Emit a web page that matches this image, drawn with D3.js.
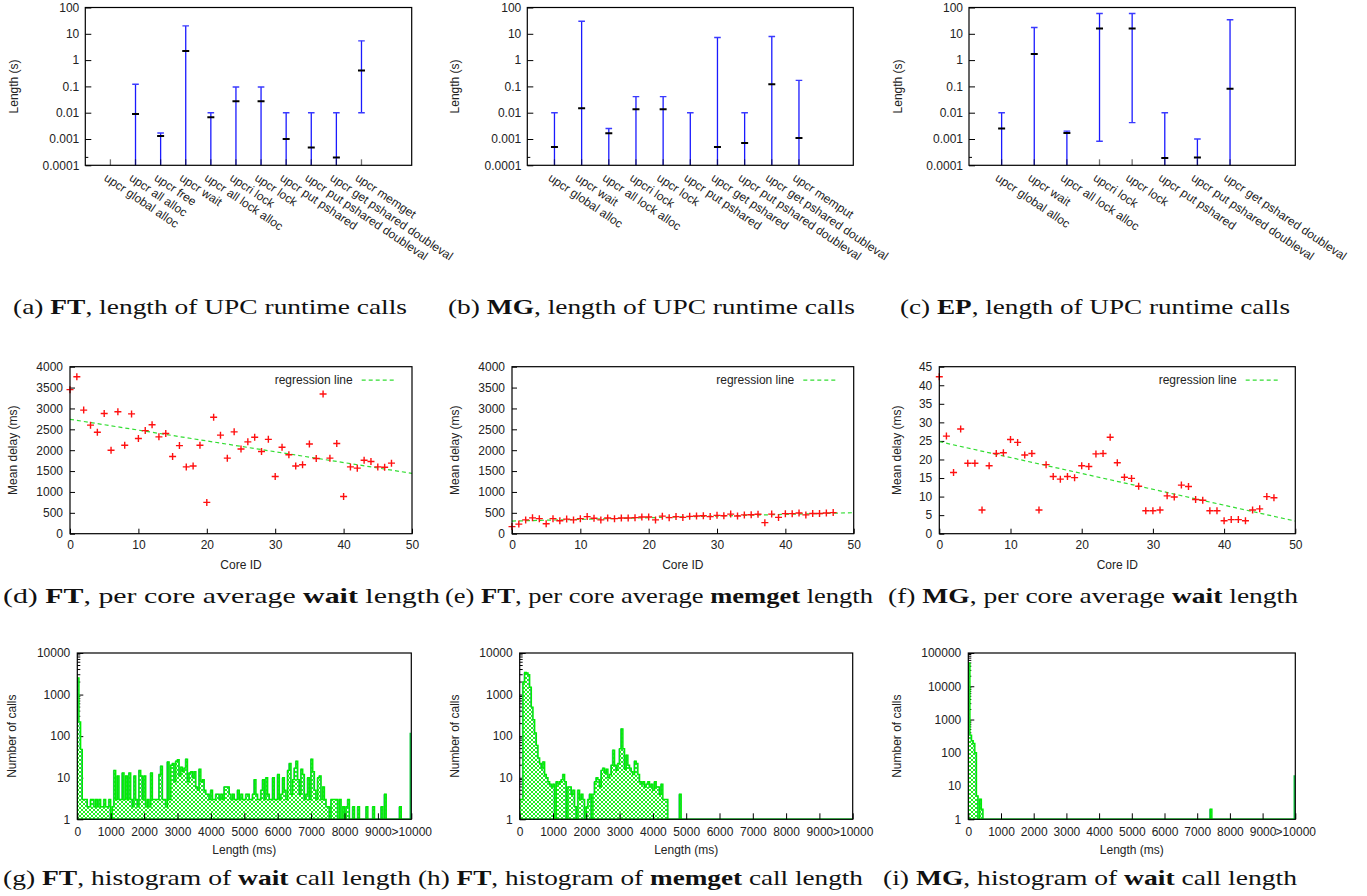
<!DOCTYPE html>
<html><head><meta charset="utf-8">
<script src="https://cdn.jsdelivr.net/npm/d3@7"></script>
<style>body{margin:0;background:#fff}svg{display:block}text{white-space:pre}</style>
</head><body>
<script>
// ---------------- DATA ----------------
// Row 1: length of UPC runtime calls (s): min / mean / max per call
const ftCalls = ["upcr global alloc","upcr all alloc","upcr free","upcr wait","upcr all lock alloc","upcri lock","upcr lock","upcr put pshared","upcr put pshared doubleval","upcr get pshared doubleval","upcr memget"];
const ftMin  = [null,0.00005,0.00005,0.00005,0.00005,0.00005,0.00005,0.00005,0.00005,0.00005,0.01];
const ftMean = [null,0.009,0.0013,2.2,0.0067,0.027,0.027,0.001,0.00048,0.0002,0.4];
const ftMax  = [null,0.12,0.0017,20,0.01,0.095,0.095,0.01,0.01,0.01,5.4];

const mgCalls = ["upcr global alloc","upcr wait","upcr all lock alloc","upcri lock","upcr lock","upcr put pshared","upcr get pshared","upcr put pshared doubleval","upcr get pshared doubleval","upcr memput"];
const mgMin  = [0.00005,0.00005,0.00005,0.00005,0.00005,0.00005,0.00005,0.00005,0.00005,0.00005];
const mgMean = [0.0005,0.0147,0.00165,0.0135,0.0135,null,0.0005,0.0007,0.122,0.0011];
const mgMax  = [0.01,30,0.0025,0.041,0.041,0.01,7.2,0.01,7.9,0.17];

const epCalls = ["upcr global alloc","upcr wait","upcr all lock alloc","upcri lock","upcr lock","upcr put pshared","upcr put pshared doubleval","upcr get pshared doubleval"];
const epMin  = [0.00005,0.00005,0.00005,0.00082,0.0042,0.00005,0.00005,0.00005];
const epMean = [0.0025,1.7,0.0017,15.9,15.9,0.00019,0.0002,0.081];
const epMax  = [0.01,17.4,0.002,59,59,0.01,0.001,34];

const logTickValues = [100,10,1,0.1,0.01,0.001,0.0001];
const logTickLabels = ["100","10","1","0.1","0.01","0.001","0.0001"];

// Row 2: per core mean delay (ms)
const coreIds = d3.range(0,48);
const ftWaitDelay = [3450,3760,2960,2600,2430,2880,2000,2920,2120,2870,
  2280,2470,2610,2320,2400,1850,2110,1600,1620,2120,
  750,2790,2360,1810,2440,2030,2200,2310,1970,2260,
  1370,2070,1890,1620,1650,2150,1800,3345,1810,2160,
  890,1600,1570,1760,1730,1600,1590,1690];
const ftMemgetDelay = [170,230,330,380,360,240,360,310,350,330,
  360,410,370,330,375,360,375,375,385,400,
  400,330,420,385,410,390,415,425,430,410,
  440,430,470,425,450,455,465,265,470,390,
  480,480,495,450,485,485,495,505];
const mgWaitDelay = [42.3,26.3,16.5,28.2,19.0,19.0,6.4,18.3,21.6,21.8,
  25.4,24.6,21.2,21.6,6.4,18.6,15.4,14.7,15.4,15.1,
  18.3,18.1,21.5,21.6,26.0,19.1,15.2,14.9,12.8,6.2,
  6.2,6.4,10.2,9.9,13.1,12.7,9.2,9.0,6.2,6.2,
  3.5,3.8,3.8,3.5,6.4,6.7,10.0,9.7];
const ftWaitReg   = [[0,2740],[50,1445]];
const ftMemgetReg = [[0,303],[50,503]];
const mgWaitReg   = [[0,24.8],[50,3.4]];

// Row 3: histograms, 50 ms bins from 0 to 10000, plus the ">10000" bin
const binWidth = 50;
const histTickValues = [0,1000,2000,3000,4000,5000,6000,7000,8000,9000,10000];
const histTickLabels = ["0","1000","2000","3000","4000","5000","6000","7000","8000","9000",">10000"];
const ftWaitHist = [
  2500,220,48,3,3,3,2,2,3,3,
  2,3,2,3,2,2,3,2,2,3,
  1,2,15,3,11,3,3,13,3,11,
  3,13,3,2,11,3,2,15,11,3,
  11,2,3,2,13,3,3,3,3,12,
  19,3,3,2,24,3,20,22,8,25,
  27,11,18,14,17,28,8,13,14,10,
  14,6,5,16,8,9,5,4,4,3,
  5,3,3,4,4,3,4,3,6,6,
  6,4,3,4,3,3,5,3,4,3,
  3,4,4,3,3,4,9,4,3,3,
  5,9,3,10,4,3,3,10,3,3,
  12,3,4,10,5,3,15,22,4,9,
  17,25,9,4,16,12,3,4,10,3,
  28,14,5,3,10,11,3,6,3,2,
  2,1,3,3,3,3,1,3,1,2,
  0,2,3,0,0,2,0,0,2,0,
  0,0,0,2,0,0,0,2,0,0,
  1,0,2,0,4,0,0,0,0,0,
  0,0,0,2,0,0,0,0,0,0];
const ftWaitOver = 120;
const ftMemgetHist = [
  3,3,2000,3400,3300,3000,1500,500,250,120,
  60,30,22,17,24,12,10,8,7,6,
  7,1,8,7,8,9,12,8,1,6,
  6,4,5,2,1,5,3,4,3,1,
  2,3,4,1,4,8,10,9,6,15,
  17,13,16,10,12,20,46,20,15,22,
  50,150,50,16,35,20,17,14,12,25,
  22,12,8,7,8,6,7,8,6,7,
  5,8,6,6,4,7,3,3,3,0,
  0,0,0,0,0,0,4,0,0,0,
  0,0,0,0,0,0,0,0,0,0,
  0,0,0,0,0,0,0,0,0,0,
  0,0,0,0,0,0,0,0,0,0,
  0,0,0,0,0,0,0,0,0,0,
  0,0,0,0,0,0,0,0,0,0,
  0,0,0,0,0,0,0,0,0,0,
  0,0,0,0,0,0,0,0,0,0,
  0,0,0,0,0,0,0,0,0,0,
  0,0,0,0,0,0,0,0,0,0,
  0,0,0,0,0,0,0,0,0,0];
const ftMemgetOver = 0;
const mgWaitHist = [
  49000,340,230,190,100,5,1,4,2,0,
  0,0,0,0,0,0,0,0,0,0,
  0,0,0,0,0,0,0,0,0,0,
  0,0,0,0,0,0,0,0,0,0,
  0,0,0,0,0,0,0,0,0,0,
  0,0,0,0,0,0,0,0,0,0,
  0,0,0,0,0,0,0,0,0,0,
  0,0,0,0,0,0,0,0,0,0,
  0,0,0,0,0,0,0,0,0,0,
  0,0,0,0,0,0,0,0,0,0,
  0,0,0,0,0,0,0,0,0,0,
  0,0,0,0,0,0,0,0,0,0,
  0,0,0,0,0,0,0,0,0,0,
  0,0,0,0,0,0,0,0,0,0,
  0,0,0,0,0,0,0,0,2,0,
  0,0,0,0,0,0,0,0,0,0,
  0,0,0,0,0,0,0,0,0,0,
  0,0,0,0,0,0,0,0,0,0,
  0,0,0,0,0,0,0,0,0,0,
  0,0,0,0,0,0,0,0,0,0];
const mgWaitOver = 21;

// ---------------- DRAWING ----------------
const SANS = "'Liberation Sans', Arial, Helvetica, sans-serif";
const SERIF = "'Liberation Serif', 'Times New Roman', serif";
const TXT = "#222";
const svg = d3.select("body").append("svg").attr("width",1367).attr("height",896);
svg.append("rect").attr("width",1367).attr("height",896).attr("fill","#fff");
const defs = svg.append("defs");
const pat = defs.append("pattern").attr("id","xhatch").attr("patternUnits","userSpaceOnUse").attr("width",4).attr("height",4);
pat.append("rect").attr("width",4).attr("height",4).attr("fill","#fff");
pat.append("path").attr("d","M0,0L4,4M4,0L0,4").attr("stroke","#22ee22").attr("stroke-width",1);
let clipN = 0;
function clip(l,t,r,b){
  const id = "clip"+(clipN++);
  defs.append("clipPath").attr("id",id).append("rect").attr("x",l).attr("y",t).attr("width",r-l).attr("height",b-t);
  return "url(#"+id+")";
}
function styleAxis(g){
  g.select(".domain").remove();
  g.selectAll(".tick line").attr("stroke","#000");
  g.selectAll("text").attr("font-family",SANS).attr("font-size",12).attr("fill",TXT);
}
function frame(l,t,r,b){
  svg.append("rect").attr("x",l).attr("y",t).attr("width",r-l).attr("height",b-t)
    .attr("fill","none").attr("stroke","#000").attr("stroke-width",1.2);
}
function vtitle(txt,cx,cy){
  svg.append("text").attr("transform",`translate(${cx},${cy}) rotate(-90)`).attr("text-anchor","middle")
    .attr("dy","0.35em").attr("font-family",SANS).attr("font-size",12).attr("fill",TXT).text(txt);
}
function htitle(txt,cx,cy){
  svg.append("text").attr("x",cx).attr("y",cy).attr("text-anchor","middle")
    .attr("dy","0.35em").attr("font-family",SANS).attr("font-size",12).attr("fill",TXT).text(txt);
}

// Row 1 error-bar panels
function errPanel(c){
  const x = d3.scaleLinear().domain([0,c.slots]).range([c.l,c.r]);
  const y = d3.scaleLog().domain([1e-4,100]).range([c.b,c.t]).clamp(true);
  const ay = svg.append("g").attr("transform",`translate(${c.l},0)`)
    .call(d3.axisLeft(y).tickValues(logTickValues).tickFormat((d,i)=>logTickLabels[i]).tickSize(-6).tickPadding(6));
  styleAxis(ay);
  svg.append("line").attr("x1",c.l).attr("x2",c.l+3).attr("y1",y(0.0002)).attr("y2",y(0.0002)).attr("stroke","#000");
  const g = svg.append("g").attr("clip-path",clip(c.l,c.t,c.r,c.b));
  c.names.forEach((n,i)=>{
    const cx = x(i+1);
    if(c.max[i]!=null){
      g.append("line").attr("x1",cx).attr("x2",cx).attr("y1",y(c.min[i])).attr("y2",y(c.max[i]))
        .attr("stroke","#1a1aff").attr("stroke-width",1.3);
      [c.min[i],c.max[i]].forEach(v=>{ if(v>=1e-4) g.append("line").attr("x1",cx-3.3).attr("x2",cx+3.3)
        .attr("y1",y(v)).attr("y2",y(v)).attr("stroke","#3a3aff").attr("stroke-width",1.4);});
    }
    if(c.mean[i]!=null){
      g.append("line").attr("x1",cx-3.5).attr("x2",cx+3.5).attr("y1",y(c.mean[i])).attr("y2",y(c.mean[i]))
        .attr("stroke","#000").attr("stroke-width",2);
    }
    svg.append("line").attr("x1",cx).attr("x2",cx).attr("y1",c.b).attr("y2",c.b-6).attr("stroke","#000").attr("stroke-opacity",0.55).attr("stroke-width",1.3);
    svg.append("text").attr("transform",`translate(${cx-2},${c.b+7}) rotate(34)`).attr("dy","0.75em")
      .attr("font-family",SANS).attr("font-size",12).attr("fill",TXT).text(n);
  });
  frame(c.l,c.t,c.r,c.b);
  vtitle("Length (s)",c.titleX,(c.t+c.b)/2);
}
errPanel({l:85.3,r:411.7,t:7.5,b:165.3,slots:13,names:ftCalls,min:ftMin,mean:ftMean,max:ftMax,titleX:14});
errPanel({l:527.3,r:853.3,t:7.5,b:165.3,slots:12,names:mgCalls,min:mgMin,mean:mgMean,max:mgMax,titleX:455});
errPanel({l:969,r:1295.3,t:7.5,b:165.3,slots:10,names:epCalls,min:epMin,mean:epMean,max:epMax,titleX:898});

// Row 2 scatter panels
function scatterPanel(c){
  const x = d3.scaleLinear().domain([0,50]).range([c.l,c.r]);
  const y = d3.scaleLinear().domain([0,c.ymax]).range([c.b,c.t]);
  const ay = svg.append("g").attr("transform",`translate(${c.l},0)`)
    .call(d3.axisLeft(y).tickValues(d3.range(0,c.ymax+0.001,c.ystep)).tickFormat(d3.format("d")).tickSize(-5).tickPadding(7));
  styleAxis(ay);
  const ax = svg.append("g").attr("transform",`translate(0,${c.b})`)
    .call(d3.axisBottom(x).tickValues([0,10,20,30,40,50]).tickFormat(d3.format("d")).tickSize(-5).tickPadding(7));
  styleAxis(ax);
  const g = svg.append("g").attr("clip-path",clip(c.l,c.t,c.r,c.b));
  g.append("path").attr("d",d3.line().x(d=>x(d[0])).y(d=>y(d[1]))(c.reg))
    .attr("stroke","#33dd33").attr("stroke-width",1.2).attr("stroke-dasharray","4,3").attr("fill","none");
  svg.append("g").selectAll("path").data(coreIds).join("path")
    .attr("d",i=>{const px=x(i),py=y(c.vals[i]);return `M${px-3.5},${py}H${px+3.5}M${px},${py-3.5}V${py+3.5}`;})
    .attr("stroke","#ff1010").attr("stroke-width",1.4).attr("fill","none");
  svg.append("text").attr("x",c.legEnd).attr("y",c.t+17.5).attr("text-anchor","end")
    .attr("font-family",SANS).attr("font-size",12).attr("fill",TXT).text("regression line");
  svg.append("line").attr("x1",c.legEnd+9).attr("x2",c.legEnd+43).attr("y1",c.t+13.5).attr("y2",c.t+13.5)
    .attr("stroke","#33dd33").attr("stroke-width",1.2).attr("stroke-dasharray","4,3");
  frame(c.l,c.t,c.r,c.b);
  vtitle("Mean delay (ms)",c.titleX,(c.t+c.b)/2);
  htitle("Core ID",(c.l+c.r)/2,565);
}
scatterPanel({l:70,r:412,t:366.7,b:533.7,ymax:4000,ystep:500,vals:ftWaitDelay,reg:ftWaitReg,legEnd:352.7,titleX:13});
scatterPanel({l:512,r:853.7,t:366.7,b:533.7,ymax:4000,ystep:500,vals:ftMemgetDelay,reg:ftMemgetReg,legEnd:794.3,titleX:455});
scatterPanel({l:939.3,r:1295.3,t:366.7,b:533.7,ymax:45,ystep:5,vals:mgWaitDelay,reg:mgWaitReg,legEnd:1236.7,titleX:897});

// Row 3 histogram panels
function histPanel(c){
  const x = d3.scaleLinear().domain([0,10000]).range([c.l,c.r]);
  const y = d3.scaleLog().domain([1,c.ymax]).range([c.b,c.t]).clamp(true);
  const major = d3.range(0,Math.round(Math.log10(c.ymax))+1).map(k=>Math.pow(10,k));
  const ay = svg.append("g").attr("transform",`translate(${c.l},0)`)
    .call(d3.axisLeft(y).tickValues(major).tickFormat(d3.format("d")).tickSize(-6).tickPadding(7));
  styleAxis(ay);
  major.slice(0,-1).forEach(p=>{ for(let m=2;m<=9;m++){
    svg.append("line").attr("x1",c.l).attr("x2",c.l+3).attr("y1",y(m*p)).attr("y2",y(m*p)).attr("stroke","#000");}});
  const g = svg.append("g").attr("clip-path",clip(c.l,c.t,c.r,c.b));
  const bins = c.vals.map((v,i)=>({x0:i*binWidth,x1:(i+1)*binWidth,v}));
  let d = `M${x(0)},${c.b}`;
  bins.forEach(b=>{ const yy = y(Math.max(b.v,1)); d += `L${x(b.x0)},${yy}L${x(b.x1)},${yy}`; });
  d += `L${x(10000)},${c.b}Z`;
  g.append("path").attr("d",d).attr("fill","url(#xhatch)").attr("stroke","none");
  g.append("path").attr("d",d).attr("fill","none").attr("stroke","#4ba0a0").attr("stroke-width",1).attr("transform","translate(-0.6,0)");
  g.append("path").attr("d",d).attr("fill","none").attr("stroke","#00ee00").attr("stroke-width",1.4);
  if(c.over>1){
    g.append("line").attr("x1",x(10000)-1).attr("x2",x(10000)-1).attr("y1",c.b).attr("y2",y(c.over))
      .attr("stroke","#11cc44").attr("stroke-width",1.6);
  }
  const ax = svg.append("g").attr("transform",`translate(0,${c.b})`)
    .call(d3.axisBottom(x).tickValues(histTickValues).tickFormat((d,i)=>histTickLabels[i]).tickSize(-6).tickPadding(8));
  styleAxis(ax);
  frame(c.l,c.t,c.r,c.b);
  vtitle("Number of calls",c.titleX,(c.t+c.b)/2);
  htitle("Length (ms)",(c.l+c.r)/2,850);
}
histPanel({l:77.3,r:411.3,t:653,b:819.3,ymax:10000,vals:ftWaitHist,over:ftWaitOver,titleX:12});
histPanel({l:519.7,r:852.7,t:653,b:819.3,ymax:10000,vals:ftMemgetHist,over:ftMemgetOver,titleX:455});
histPanel({l:968.3,r:1295.3,t:653,b:819.3,ymax:100000,vals:mgWaitHist,over:mgWaitOver,titleX:897});

// Captions
const captions = [
  {parts:[["(a) ",0],["FT",1],[", length of UPC runtime calls",0]],x:13,y:314,w:394},
  {parts:[["(b) ",0],["MG",1],[", length of UPC runtime calls",0]],x:448,y:314,w:407},
  {parts:[["(c) ",0],["EP",1],[", length of UPC runtime calls",0]],x:900,y:314,w:390},
  {parts:[["(d) ",0],["FT",1],[", per core average ",0],["wait",1],[" length",0]],x:3,y:603,w:437},
  {parts:[["(e) ",0],["FT",1],[", per core average ",0],["memget",1],[" length",0]],x:445,y:603,w:428},
  {parts:[["(f) ",0],["MG",1],[", per core average ",0],["wait",1],[" length",0]],x:888,y:603,w:410},
  {parts:[["(g) ",0],["FT",1],[", histogram of ",0],["wait",1],[" call length",0]],x:3,y:885,w:408},
  {parts:[["(h) ",0],["FT",1],[", histogram of ",0],["memget",1],[" call length",0]],x:418,y:885,w:445},
  {parts:[["(i) ",0],["MG",1],[", histogram of ",0],["wait",1],[" call length",0]],x:883,y:885,w:414}
];
captions.forEach(c=>{
  const t = svg.append("text").attr("x",c.x).attr("y",c.y).attr("font-family",SERIF).attr("font-size",21)
    .attr("fill","#111").attr("textLength",c.w).attr("lengthAdjust","spacingAndGlyphs");
  c.parts.forEach(p=>t.append("tspan").attr("font-weight",p[1]?"bold":"normal").text(p[0]));
});
</script>
</body></html>
